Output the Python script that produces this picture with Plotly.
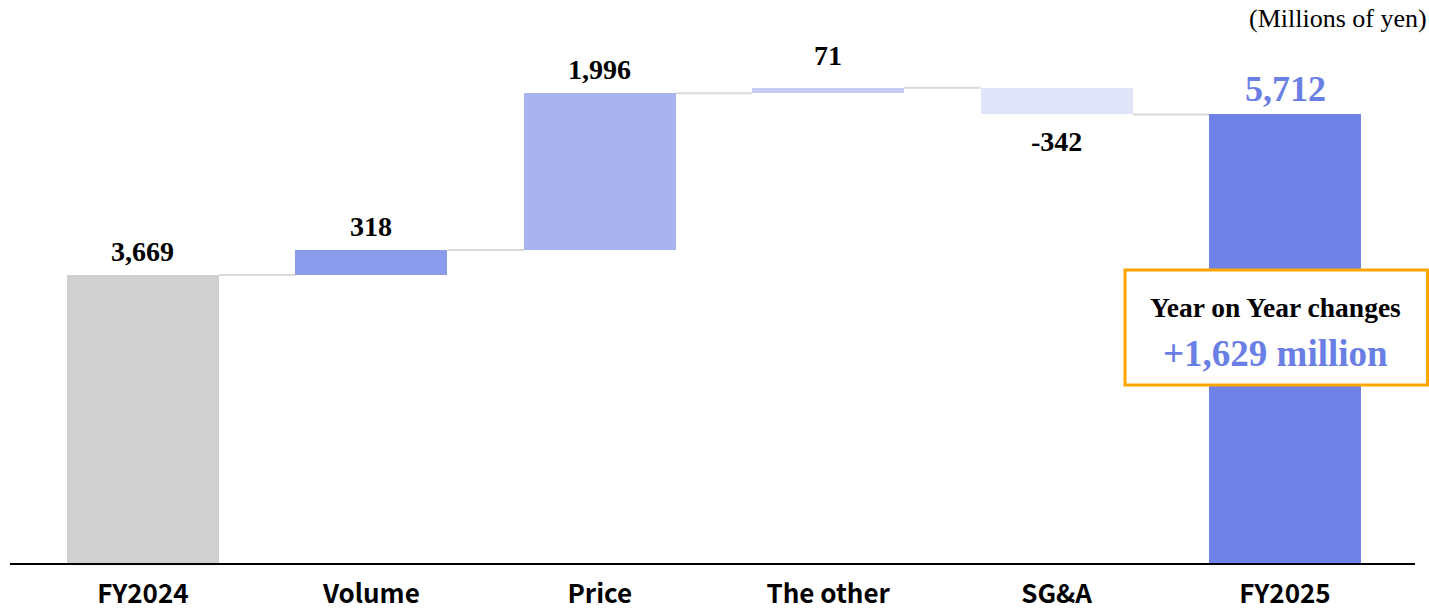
import plotly.graph_objects as go

# Operating profit bridge, FY2024 -> FY2025 (millions of yen)
categories = ["FY2024", "Volume", "Price", "The other", "SG&A", "FY2025"]
start_value = 3669
changes = [318, 1996, 71, -342]
end_value = 5712
yoy_change = 1629

bar_colors = ["#d0d0d0", "#8b9bec", "#a9b3f0", "#c5cdf5", "#e0e5f9", "#6e82e8"]
accent_blue = "#6a7fe6"
bar_width = 0.665

# Build base / height for each bar from the running total
bases, heights = [0], [start_value]
running = start_value
for c in changes:
    bases.append(running if c >= 0 else running + c)
    heights.append(abs(c))
    running += c
bases.append(0)
heights.append(end_value)
level_after = [start_value]
acc = start_value
for c in changes:
    acc += c
    level_after.append(acc)

x_idx = list(range(len(categories)))

fig = go.Figure()
fig.add_trace(go.Bar(
    x=x_idx, y=heights, base=bases, width=bar_width,
    marker=dict(color=bar_colors, line=dict(width=0)),
    hoverinfo="skip", showlegend=False,
))

# Connector lines between consecutive bars
shapes = []
for i in range(len(categories) - 1):
    lvl = level_after[i]
    shapes.append(dict(
        type="line", xref="x", yref="y",
        x0=i + bar_width / 2, x1=i + 1 - bar_width / 2, y0=lvl, y1=lvl,
        line=dict(color="#d9d9d9", width=2), layer="below",
    ))

# Year-on-year callout box
shapes.append(dict(
    type="rect", xref="paper", yref="paper",
    x0=0.7936, x1=1.0089, y0=0.3162, y1=0.5204,
    line=dict(color="#ffa500", width=3), fillcolor="white", layer="above",
))

serif = "Liberation Serif, Times New Roman, serif"
annotations = []

# Value labels
value_texts = [f"{start_value:,}"] + [f"{c:,}" for c in changes] + [f"{end_value:,}"]
for i, txt in enumerate(value_texts):
    top = bases[i] + heights[i]
    if i == len(categories) - 1:
        annotations.append(dict(
            x=i, y=top, xref="x", yref="y", text=f"<b>{txt}</b>",
            showarrow=False, yanchor="bottom", yshift=3,
            font=dict(family=serif, size=36, color=accent_blue),
        ))
    elif i > 0 and changes[i - 1] < 0:
        annotations.append(dict(
            x=i, y=bases[i], xref="x", yref="y", text=f"<b>{txt}</b>",
            showarrow=False, yanchor="top", yshift=-10,
            font=dict(family=serif, size=28, color="black"),
        ))
    else:
        shift = 15 if (i > 0 and abs(changes[i - 1]) < 150) else 6
        annotations.append(dict(
            x=i, y=top, xref="x", yref="y", text=f"<b>{txt}</b>",
            showarrow=False, yanchor="bottom", yshift=shift,
            font=dict(family=serif, size=28, color="black"),
        ))

# Unit note
annotations.append(dict(
    x=1.0, y=1.0, xref="paper", yref="paper", xanchor="right", yanchor="middle",
    xshift=14, yshift=-18, text="(Millions of yen)", showarrow=False,
    font=dict(family=serif, size=26, color="black"),
))

# Callout text
annotations.append(dict(
    x=0.901, y=0.4547, xref="paper", yref="paper", xanchor="center", yanchor="middle",
    text="<b>Year on Year changes</b>", showarrow=False,
    font=dict(family=serif, size=27.5, color="black"),
))
annotations.append(dict(
    x=0.901, y=0.3730, xref="paper", yref="paper", xanchor="center", yanchor="middle",
    text=f"<b>+{yoy_change:,} million</b>", showarrow=False,
    font=dict(family=serif, size=37, color=accent_blue),
))

fig.update_layout(
    width=1429, height=613,
    margin=dict(l=10, r=14, t=0, b=50),
    paper_bgcolor="white", plot_bgcolor="white",
    shapes=shapes, annotations=annotations,
    bargap=0,
    xaxis=dict(
        range=[-0.582, 5.569], tickmode="array", tickvals=x_idx, ticktext=categories,
        showline=True, linecolor="black", linewidth=2, ticks="", showgrid=False,
        zeroline=False, ticklabelstandoff=7, automargin=False,
        tickfont=dict(family="Noto Sans CJK JP", size=26, color="black", weight="bold"),
    ),
    yaxis=dict(range=[0, 7170], visible=False, showgrid=False, zeroline=False,
               automargin=False),
)

fig.write_html("out.html")
